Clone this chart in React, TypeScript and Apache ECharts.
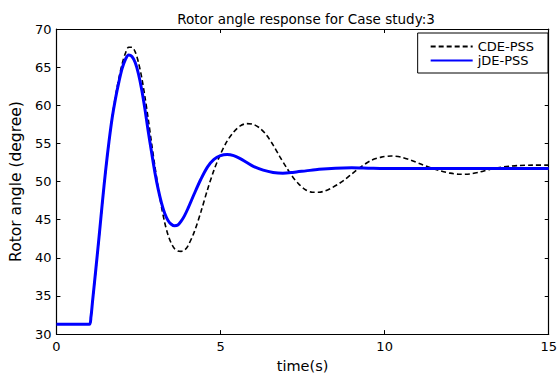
import React, { useEffect, useRef } from "react";
import * as echarts from "echarts";

const xTicks = [0, 5, 10, 15];
const yTicks = [30, 35, 40, 45, 50, 55, 60, 65, 70];

const cdeTime = [0, 1.0, 1.05, 1.1, 1.2, 1.3, 1.4, 1.5, 1.6, 1.7, 1.8, 1.9, 2.0, 2.1, 2.2, 2.3, 2.4, 2.5, 2.6, 2.7, 2.8, 2.9, 3.0, 3.1, 3.2, 3.3, 3.4, 3.5, 3.6, 3.7, 3.8, 3.9, 4.0, 4.2, 4.4, 4.6, 4.8, 5.0, 5.2, 5.4, 5.6, 5.8, 6.0, 6.2, 6.4, 6.6, 6.8, 7.0, 7.2, 7.4, 7.6, 7.8, 8.0, 8.2, 8.4, 8.6, 8.8, 9.0, 9.3, 9.6, 9.9, 10.2, 10.5, 10.8, 11.1, 11.4, 11.7, 12.0, 12.3, 12.6, 12.9, 13.2, 13.5, 13.8, 14.1, 14.5, 15];
const cdeAngle = [31.3, 31.3, 32.2, 34.2, 38.4, 42.7, 47.2, 51.4, 55.2, 58.5, 61.2, 63.5, 65.4, 66.8, 67.6, 67.6, 67.0, 65.6, 63.6, 61.0, 58.1, 55.0, 52.0, 49.2, 46.7, 44.6, 43.0, 41.9, 41.2, 40.9, 40.85, 41.0, 41.5, 43.4, 46.0, 48.9, 51.5, 53.6, 55.3, 56.5, 57.3, 57.6, 57.5, 57.0, 56.1, 54.8, 53.3, 51.9, 50.6, 49.6, 48.9, 48.6, 48.6, 48.8, 49.2, 49.7, 50.3, 51.0, 52.0, 52.8, 53.2, 53.35, 53.2, 52.8, 52.3, 51.8, 51.4, 51.1, 50.95, 51.0, 51.25, 51.6, 51.85, 52.0, 52.1, 52.15, 52.15];

const jdeTime = [0, 1.0, 1.05, 1.1, 1.2, 1.3, 1.4, 1.5, 1.6, 1.7, 1.8, 1.9, 2.0, 2.1, 2.2, 2.3, 2.4, 2.5, 2.6, 2.7, 2.8, 2.9, 3.0, 3.1, 3.2, 3.3, 3.4, 3.5, 3.6, 3.7, 3.8, 3.9, 4.0, 4.2, 4.4, 4.6, 4.8, 5.0, 5.2, 5.4, 5.6, 5.8, 6.0, 6.3, 6.6, 6.9, 7.2, 7.6, 8.0, 8.5, 9.0, 9.5, 10, 11, 15];
const jdeAngle = [31.3, 31.3, 32.2, 34.3, 38.5, 42.8, 47.3, 51.5, 55.2, 58.4, 60.9, 63.0, 64.8, 66.0, 66.6, 66.4, 65.6, 64.1, 62.0, 59.4, 56.5, 53.8, 51.2, 49.0, 47.2, 45.8, 44.9, 44.4, 44.2, 44.3, 44.8, 45.5, 46.4, 48.4, 50.3, 51.9, 52.9, 53.4, 53.55, 53.4, 53.0, 52.5, 52.0, 51.5, 51.2, 51.1, 51.2, 51.4, 51.6, 51.75, 51.8, 51.75, 51.7, 51.7, 51.7];

const FONT = "'DejaVu Sans', Verdana, sans-serif";

export default function App() {
  const ref = useRef<HTMLDivElement>(null);
  useEffect(() => {
    if (!ref.current) return;
    const chart = echarts.init(ref.current, null, { renderer: "svg" });
    const pairs = (t: number[], v: number[]) => t.map((x, i) => [x, v[i]]);
    const axisLine = { show: true, onZero: false, lineStyle: { color: "#000", width: 1.2 } };
    const tick = { show: true, inside: true, length: 4, lineStyle: { color: "#000" } };
    chart.setOption({
      animation: false,
      backgroundColor: "#fff",
      title: {
        text: "Rotor angle response for Case study:3",
        left: 301,
        top: 7,
        textAlign: "center",
        textStyle: { fontFamily: FONT, fontSize: 13.5, fontWeight: "normal", color: "#000" },
      },
      grid: { left: 54, right: 9, top: 29, bottom: 37 },
      legend: {
        right: 12,
        top: 33,
        orient: "vertical",
        itemWidth: 42,
        itemHeight: 13,
        itemGap: 1,
        itemTextGap: 8,
        padding: [7, 14, 6, 12],
        backgroundColor: "#fff",
        borderColor: "#000",
        borderWidth: 1,
        borderRadius: 0,
        itemStyle: { opacity: 0 },
        textStyle: { fontFamily: FONT, fontSize: 13, lineHeight: 13, color: "#000" },
        data: ["CDE-PSS", "jDE-PSS"],
      },
      xAxis: [
        {
          type: "value",
          min: 0,
          max: 15,
          interval: 5,
          name: "time(s)",
          nameLocation: "middle",
          nameGap: 22,
          nameTextStyle: { fontFamily: FONT, fontSize: 14.5, color: "#000" },
          axisLine,
          axisTick: tick,
          splitLine: { show: false },
          axisLabel: {
            fontFamily: FONT,
            fontSize: 13,
            color: "#000",
            margin: 6,
            formatter: (v: number) => (xTicks.includes(v) ? String(v) : ""),
          },
        },
        {
          type: "value",
          position: "top",
          min: 0,
          max: 15,
          interval: 5,
          axisLine,
          axisTick: tick,
          axisLabel: { show: false },
          splitLine: { show: false },
        },
      ],
      yAxis: [
        {
          type: "value",
          min: 30,
          max: 70,
          interval: 5,
          name: "Rotor angle (degree)",
          nameLocation: "middle",
          nameGap: 29,
          nameTextStyle: { fontFamily: FONT, fontSize: 15.5, color: "#000" },
          axisLine,
          axisTick: tick,
          splitLine: { show: false },
          axisLabel: {
            fontFamily: FONT,
            fontSize: 13,
            color: "#000",
            margin: 5,
            formatter: (v: number) => (yTicks.includes(v) ? String(v) : ""),
          },
        },
        {
          type: "value",
          position: "right",
          min: 30,
          max: 70,
          interval: 5,
          axisLine,
          axisTick: tick,
          axisLabel: { show: false },
          splitLine: { show: false },
        },
      ],
      series: [
        {
          name: "CDE-PSS",
          type: "line",
          symbol: "none",
          showSymbol: false,
          smooth: 0.3,
          data: pairs(cdeTime, cdeAngle),
          lineStyle: { color: "#000", width: 1.6, type: [5, 3] },
          itemStyle: { color: "#000" },
          z: 3,
        },
        {
          name: "jDE-PSS",
          type: "line",
          symbol: "none",
          showSymbol: false,
          smooth: 0.3,
          data: pairs(jdeTime, jdeAngle),
          lineStyle: { color: "#0000ff", width: 3 },
          itemStyle: { color: "#0000ff" },
          z: 4,
        },
      ],
    });
    return () => chart.dispose();
  }, []);
  return <div ref={ref} style={{ width: 560, height: 378, position: "fixed", left: 0, top: 0 }} />;
}
